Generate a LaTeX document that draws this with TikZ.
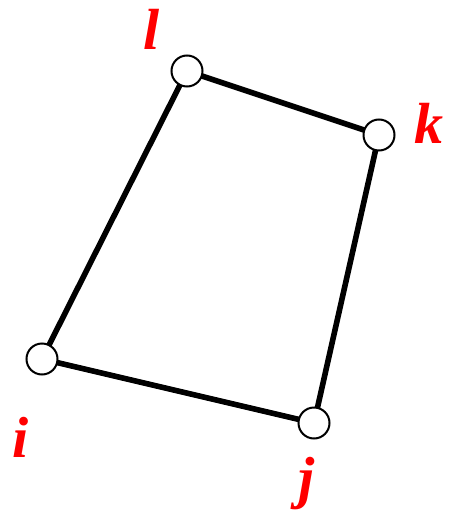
\documentclass[tikz,border=0pt]{standalone}
\usepackage{fontspec}
\setmainfont{Liberation Serif}
\begin{document}
\begin{tikzpicture}[x=1pt,y=-1pt,
  vert/.style={circle,draw=black,fill=white,line width=2pt,minimum size=31pt,inner sep=0pt},
  edge/.style={line width=5.6pt},
  lab/.style={text=red,font=\fontsize{58}{60}\selectfont\bfseries\itshape,inner sep=0pt,anchor=base}]
\useasboundingbox (0,0) rectangle (448,511);
\coordinate (pl) at (187,71);
\coordinate (pk) at (379,135);
\coordinate (pj) at (314,423);
\coordinate (pi) at (42,359);
\draw[edge] (pl) -- (pk) -- (pj) -- (pi) -- cycle;
\node[vert] (l) at (pl) {};
\node[vert] (k) at (pk) {};
\node[vert] (j) at (pj) {};
\node[vert] (i) at (pi) {};
\node[lab] (tl) at (152,50) {l};
\node[lab] (tk) at (429,143) {k};
\node[lab] (ti) at (21,457) {i};
\node[lab] (tj) at (307,497) {j};
\end{tikzpicture}
\end{document}
